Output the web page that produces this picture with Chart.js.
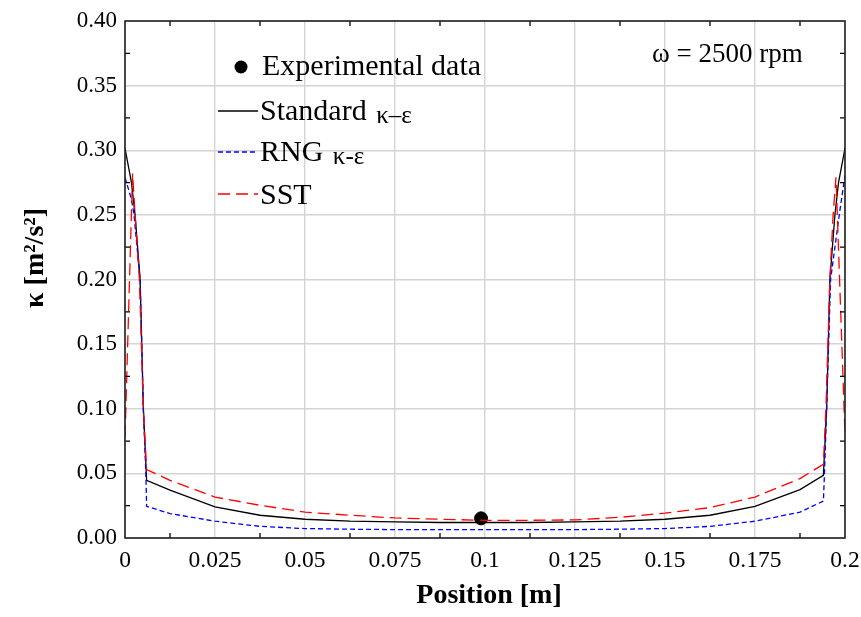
<!DOCTYPE html>
<html>
<head>
<meta charset="utf-8">
<script src="https://cdn.jsdelivr.net/npm/chart.js@4"></script>
<style>
    body { margin: 0; background: #fff; }
    .wrap { width: 861px; height: 617px; }
</style>
</head>
<body>
<div class="wrap"><canvas id="k-chart"></canvas></div>
<script>
"use strict"

// values
const expPos = [0.0989];
const expK = [0.0152];

const posStd = [0, 0.0018, 0.0028, 0.0042, 0.0051, 0.006, 0.0125, 0.025, 0.0375, 0.05, 0.0625, 0.075, 0.0875, 0.1, 0.1125, 0.125, 0.1375, 0.15, 0.1625, 0.175, 0.1875, 0.194, 0.1949, 0.1958, 0.1972, 0.1982, 0.2];
const kStd = [0.3015, 0.275, 0.25, 0.2, 0.1, 0.0446, 0.037, 0.024, 0.0176, 0.0145, 0.013, 0.0124, 0.012, 0.012, 0.012, 0.0124, 0.013, 0.0145, 0.0176, 0.0245, 0.0374, 0.0485, 0.1, 0.2, 0.25, 0.275, 0.3015];

const posRng = [0, 0.0018, 0.0025, 0.0042, 0.0051, 0.0058, 0.006, 0.0125, 0.025, 0.0375, 0.05, 0.0625, 0.075, 0.0875, 0.1, 0.1125, 0.125, 0.1375, 0.15, 0.1625, 0.175, 0.1875, 0.194, 0.1943, 0.1949, 0.196, 0.1984, 0.2];
const kRng = [0.279, 0.262, 0.25, 0.2, 0.1, 0.05, 0.0245, 0.0189, 0.013, 0.009, 0.0073, 0.0068, 0.0065, 0.0065, 0.0065, 0.0065, 0.0065, 0.0068, 0.0073, 0.009, 0.013, 0.020, 0.0286, 0.05, 0.1, 0.2, 0.25, 0.2805];

const posSst = [0, 0.0021, 0.0028, 0.004, 0.0051, 0.006, 0.0125, 0.025, 0.0375, 0.05, 0.0625, 0.075, 0.0875, 0.1, 0.1125, 0.125, 0.1375, 0.15, 0.1625, 0.175, 0.1875, 0.194, 0.1947, 0.1958, 0.1967, 0.1975, 0.2];
const kSst = [0.078, 0.282, 0.25, 0.2, 0.1, 0.053, 0.0446, 0.0317, 0.0253, 0.020, 0.0176, 0.0155, 0.0145, 0.0137, 0.0137, 0.014, 0.016, 0.0193, 0.0235, 0.0317, 0.046, 0.057, 0.1, 0.2, 0.25, 0.279, 0.08];

const xMinorTicks = [0.0125, 0.0375, 0.0625, 0.0875, 0.1125, 0.1375, 0.1625, 0.1875];
const yMinorTicks = [0.025, 0.075, 0.125, 0.175, 0.225, 0.275, 0.325, 0.375];

const legendLabels = ['Experimental data', 'Standard ', 'RNG ', 'SST'];
const legendSub = ['', 'κ–ε', 'κ-ε', ''];
const noteText = 'ω = 2500 rpm';

const SERIF = '"Liberation Serif", "Times New Roman", serif';

function toPoints(xs, ys) {
    return xs.map((x, i) => ({ x: x, y: ys[i] }));
};

const decorPlugin = {
    id: 'decor',
    afterDraw(chart) {
        const ctx = chart.ctx;
        const a = chart.chartArea;
        const xs = chart.scales.x;
        const ys = chart.scales.y;

        ctx.save();
        // minor ticks, inside, all four sides
        ctx.strokeStyle = '#000';
        ctx.lineWidth = 1.3;
        ctx.beginPath();
        xMinorTicks.forEach(v => {
            const px = xs.getPixelForValue(v);
            ctx.moveTo(px, a.bottom); ctx.lineTo(px, a.bottom - 5);
            ctx.moveTo(px, a.top); ctx.lineTo(px, a.top + 5);
        });
        yMinorTicks.forEach(v => {
            const py = ys.getPixelForValue(v);
            ctx.moveTo(a.left, py); ctx.lineTo(a.left + 5, py);
            ctx.moveTo(a.right, py); ctx.lineTo(a.right - 5, py);
        });
        ctx.stroke();

        // frame
        ctx.strokeStyle = '#222';
        ctx.lineWidth = 1.6;
        ctx.strokeRect(a.left, a.top, a.right - a.left, a.bottom - a.top);

        // legend
        const ds = chart.data.datasets;
        ctx.fillStyle = '#000';
        ctx.textBaseline = 'alphabetic';
        ctx.textAlign = 'left';

        ctx.beginPath();
        ctx.arc(241, 67, 6.5, 0, Math.PI * 2);
        ctx.fill();
        ctx.font = '30px ' + SERIF;
        ctx.fillText(legendLabels[0], 262, 75);

        const rows = [
            { ds: ds[1], lineY: 111, base: 120 },
            { ds: ds[2], lineY: 152, base: 161 },
            { ds: ds[3], lineY: 194, base: 204 },
        ];
        rows.forEach((r, i) => {
            ctx.strokeStyle = r.ds.borderColor;
            ctx.lineWidth = r.ds.borderWidth;
            ctx.setLineDash(r.ds.borderDash || []);
            ctx.beginPath();
            ctx.moveTo(218, r.lineY);
            ctx.lineTo(258, r.lineY);
            ctx.stroke();
            ctx.setLineDash([]);
            ctx.font = '30px ' + SERIF;
            ctx.fillText(legendLabels[i + 1], 260, r.base);
            if (legendSub[i + 1]) {
                const w = ctx.measureText(legendLabels[i + 1]).width;
                ctx.font = '25px ' + SERIF;
                ctx.fillText(legendSub[i + 1], 260 + w + 2, r.base + 3);
            }
        });

        // annotation
        ctx.font = '27px ' + SERIF;
        ctx.fillText(noteText, 652, 62);

        // axis titles
        ctx.font = 'bold 28px ' + SERIF;
        ctx.textAlign = 'center';
        ctx.textBaseline = 'middle';
        ctx.fillText('Position [m]', (a.left + a.right) / 2 + 4, 596);
        ctx.translate(36, 258);
        ctx.rotate(-Math.PI / 2);
        ctx.fillText('κ [m²/s²]', 0, 0);
        ctx.restore();
    }
};

const chartEl = document.getElementById('k-chart');

new Chart(chartEl, {
    type: 'scatter',
    data: {
        datasets: [
            {
                label: 'Experimental data',
                data: toPoints(expPos, expK),
                backgroundColor: '#000',
                borderColor: '#000',
                pointRadius: 6.5,
                showLine: false,
                order: 3
            },
            {
                label: 'Standard κ–ε',
                data: toPoints(posStd, kStd),
                borderColor: '#000',
                borderWidth: 1.3,
                pointRadius: 0,
                showLine: true,
                order: 2
            },
            {
                label: 'RNG κ-ε',
                data: toPoints(posRng, kRng),
                borderColor: '#0000ff',
                borderWidth: 1.3,
                borderDash: [5, 3],
                pointRadius: 0,
                showLine: true,
                order: 1
            },
            {
                label: 'SST',
                data: toPoints(posSst, kSst),
                borderColor: '#ff0000',
                borderWidth: 1.3,
                borderDash: [12, 6],
                pointRadius: 0,
                showLine: true,
                order: 0
            }
        ]
    },
    options: {
        responsive: true,
        maintainAspectRatio: false,
        animation: false,
        layout: { padding: { top: 21, right: 16, bottom: 0, left: 0 } },
        plugins: {
            legend: { display: false },
            tooltip: { enabled: false }
        },
        scales: {
            x: {
                type: 'linear',
                min: 0,
                max: 0.2,
                afterFit: s => {
                    s.height = 79;
                    s.paddingLeft = 0;
                    s.paddingRight = 0;
                },
                border: { display: false },
                grid: { color: '#d4d4d4', lineWidth: 1.4, drawTicks: false },
                ticks: {
                    stepSize: 0.025,
                    padding: 9,
                    color: '#000',
                    maxRotation: 0,
                    font: { family: SERIF, size: 23.5 },
                    callback: v => String(+v.toFixed(4))
                }
            },
            y: {
                min: 0,
                max: 0.4,
                afterFit: s => {
                    s.width = 125;
                    s.paddingTop = 0;
                    s.paddingBottom = 0;
                },
                border: { display: false },
                grid: { color: '#d4d4d4', lineWidth: 1.4, drawTicks: false },
                ticks: {
                    stepSize: 0.05,
                    padding: 8,
                    color: '#000',
                    font: { family: SERIF, size: 23 },
                    callback: v => v.toFixed(2)
                }
            }
        }
    },
    plugins: [decorPlugin]
});
</script>
</body>
</html>
